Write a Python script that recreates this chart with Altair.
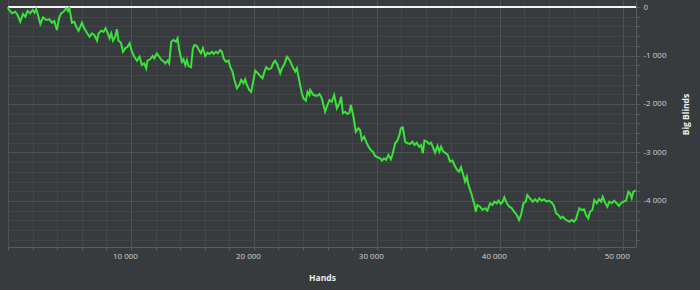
import altair as alt
import pandas as pd

# Cumulative result (big blinds) versus hands played
hands = [
    0, 50, 330, 590, 780, 1000, 1220, 1410, 1590, 1810, 2000, 2160, 2300, 2440, 2630,
    2850, 3110, 3380, 3580, 3760, 3980, 4150, 4310, 4520, 4720, 4880, 4980, 5070, 5200,
    5390, 5550, 5740, 6020, 6200, 6420, 6630, 6830, 7020, 7240, 7370, 7590, 7770, 7940,
    8100, 8260, 8400, 8540, 8720, 8860, 8990, 9190, 9350, 9540, 9720, 9890, 10080, 10270,
    10490, 10700, 10890, 11080, 11240, 11350, 11570, 11760, 11890, 12110, 12300, 12490, 12710,
    12790, 12980, 13110, 13280, 13460, 13660, 13790, 13930, 14150, 14280, 14420, 14550, 14680,
    14880, 15040, 15170, 15370, 15500, 15690, 15850, 16040, 16230, 16390, 16590, 16720, 16910,
    17070, 17260, 17400, 17530, 17720, 17940, 18070, 18260, 18420, 18620, 18810, 18970, 19150,
    19290, 19430, 19620, 19780, 19970, 20110, 20330, 20510, 20700, 20860, 21000, 21190, 21410,
    21590, 21730, 21920, 22140, 22280, 22490, 22680, 22870, 23030, 23170, 23360, 23500, 23630,
    23760, 23900, 24030, 24230, 24360, 24520,
    24580, 24850, 25120, 25330, 25530, 25660, 25800, 25980, 26150, 26340, 26530, 26750, 26960,
    27100, 27240, 27420, 27610, 27770, 27890, 28100, 28290, 28500, 28640, 28780, 28970, 29130,
    29320, 29510, 29680, 29860, 30050, 30270, 30410, 30590, 30760, 30940, 31140, 31300, 31490,
    31670, 31840, 31950, 32110, 32300, 32490, 32710, 32890, 33060, 33250, 33440, 33600, 33740,
    33870, 34070, 34250, 34410, 34600, 34740, 34930, 35090, 35230, 35410, 35610, 35770, 35960,
    36150, 36310, 36500, 36690, 36850, 36990, 37180, 37320, 37450, 37590,
    37720, 37910, 38050, 38180, 38400, 38590, 38800, 38990, 39210, 39400, 39560, 39760, 39890,
    40080, 40240, 40370, 40570, 40780, 40980, 41160, 41380, 41570, 41730, 41920, 42110, 42240,
    42460, 42680, 42870, 43060, 43220, 43410, 43600, 43820, 44010, 44230, 44410, 44580, 44760,
    44960, 45120, 45310, 45500, 45660, 45850, 46040, 46200, 46340, 46470, 46670, 46850, 47020,
    47200, 47340, 47530, 47690, 47890, 48070, 48240, 48370, 48560, 48750, 48910, 49110, 49290,
    49510, 49700, 49860, 50050, 50270, 50460, 50590, 50730, 50860, 51060,
]

big_blinds = [
    0, -47, -130, -97, -165, -303, -144, -200, -82, -130, -62, -118, -41, -165, -351,
    -212, -268, -254, -324, -289, -474, -233, -130, -97, -27, -82, 6, -130, -324,
    -303, -406, -489, -324, -439, -530, -612, -542, -577, -695, -542, -489, -509, -439,
    -530, -645, -542, -695, -612, -460, -695, -736, -922, -852, -819, -749, -922, -1025,
    -1107, -1025, -1196, -1161, -1264, -1107, -1078, -1010, -1058, -955, -1025, -1093, -1134,
    -1161, -1107, -1161, -716, -680, -716, -645, -887, -1128, -1078, -1196, -1093, -1217,
    -1243, -852, -784, -804, -872, -955, -852, -1010, -942, -969, -922, -969, -922,
    -955, -887, -922, -1058, -1128, -1107, -1231, -1334, -1505, -1676, -1608, -1505, -1573,
    -1491, -1608, -1711, -1747, -1505, -1313, -1367, -1423, -1470, -1334, -1243, -1285, -1264,
    -1149, -1107, -1196, -1367, -1264, -1175, -1025, -1078, -1161, -1243, -1334, -1264, -1437,
    -1608, -1780, -1883, -1932, -1747, -1815,
    -1711, -1815, -1835, -1794, -1883, -2021, -2159, -2021, -1918, -1953, -1815, -2089, -1986,
    -1850, -2192, -2159, -2206, -2180, -2021, -2262, -2571, -2501, -2536, -2742, -2674, -2777,
    -2881, -2949, -2984, -3072, -3099, -3120, -3169, -3120, -3155, -3052, -3140, -3017, -2811,
    -2757, -2639, -2501, -2481, -2777, -2811, -2825, -2777, -2846, -2798, -2881, -2846, -3017,
    -2757, -2777, -2825, -2798, -2914, -3004, -2866, -2984, -2881, -2984, -3017, -3052, -3190,
    -3169, -3258, -3347, -3396, -3305, -3429, -3602, -3499, -3670, -3773,
    -3877, -4048, -4221, -4083, -4118, -4186, -4151, -4200, -4048, -4083, -4015, -4048, -3994,
    -4062, -4015, -3924, -4048, -4118, -4151, -4221, -4289, -4392, -4289, -4048, -4015, -3877,
    -3945, -4015, -3965, -4015, -3945, -3994, -3965, -4015, -3994, -4035, -4103, -4254, -4289,
    -4357, -4324, -4378, -4406, -4427, -4392, -4427, -4378, -4254, -4151, -4186, -4171, -4289,
    -4357, -4221, -4186, -3980, -4048, -3965, -4015, -3912, -4035, -4118, -4015, -4048, -3994,
    -4048, -4103, -4048, -4015, -3994, -3808, -3842, -3945, -3808, -3788,
]

x_tick_values = list(range(0, 52000, 2000))
y_tick_values = list(range(-4800, 200, 200))
zero_level = [0]

df = pd.DataFrame({"hands": hands, "bb": big_blinds})
zero_df = pd.DataFrame({"bb": zero_level})

BG = "#383b3e"
MINOR = "#434649"
MAJOR = "#4f5255"
DOMAIN = "#5a5d60"
LABEL = "#cfd0d1"
TITLE = "#eeeeee"
GREEN = "#3ae23a"

x_scale = alt.Scale(domain=[0, 51080], nice=False, zero=False)
y_scale = alt.Scale(domain=[-4950, 145], nice=False, zero=False)

x_axis = alt.Axis(
    values=x_tick_values,
    labelExpr="(datum.value % 10000 === 0 && datum.value > 0) ? replace(format(datum.value, ','), ',', ' ') : ''",
    labelOverlap=False,
    labelFlush=False,
    labelOffset=-6,
    labelPadding=2,
    labelFontSize=8,
    labelColor=LABEL,
    grid=True,
    gridColor={"condition": {"test": "datum.value % 10000 === 0", "value": MAJOR}, "value": MINOR},
    gridWidth=1,
    tickColor=DOMAIN,
    tickSize=3,
    domainColor=DOMAIN,
    title="Hands",
    titleFontSize=8.5,
    titleFontWeight="bold",
    titleColor=TITLE,
    titleBaseline="middle",
    titleY=30,
)

y_axis = alt.Axis(
    orient="right",
    values=y_tick_values,
    labelExpr="(datum.value % 1000 === 0) ? ((datum.value < 0 ? '-' : '') + replace(format(abs(datum.value), ','), ',', ' ')) : ''",
    labelOverlap=False,
    labelFlush=False,
    labelPadding=3,
    labelFontSize=8,
    labelColor=LABEL,
    grid=True,
    gridColor={"condition": {"test": "datum.value % 1000 === 0", "value": MAJOR}, "value": MINOR},
    gridWidth=1,
    tickColor=DOMAIN,
    tickSize=4,
    domainColor=DOMAIN,
    title="Big Blinds",
    titleFontSize=8.5,
    titleFontWeight="bold",
    titleColor=TITLE,
    titleAngle=270,
    titleAlign="center",
    titleBaseline="middle",
    titleX=49,
    titleY=114,
)

rule = alt.Chart(zero_df).mark_rule(color="#f4f4f4", strokeWidth=2).encode(
    y=alt.Y("bb:Q", scale=y_scale, axis=y_axis)
)

line = alt.Chart(df).mark_line(color=GREEN, strokeWidth=2).encode(
    x=alt.X("hands:Q", scale=x_scale, axis=x_axis),
    y=alt.Y("bb:Q", scale=y_scale, axis=y_axis),
)

chart = (
    alt.layer(rule, line)
    .properties(
        width=628,
        height=247,
        padding={"left": 8, "top": 0, "right": 64, "bottom": 43},
        autosize=alt.AutoSizeParams(type="none"),
        background=BG,
    )
    .configure(font="Open Sans")
    .configure_view(strokeWidth=0)
)

chart.save("out.html", embed_options={"renderer": "svg", "actions": False})
